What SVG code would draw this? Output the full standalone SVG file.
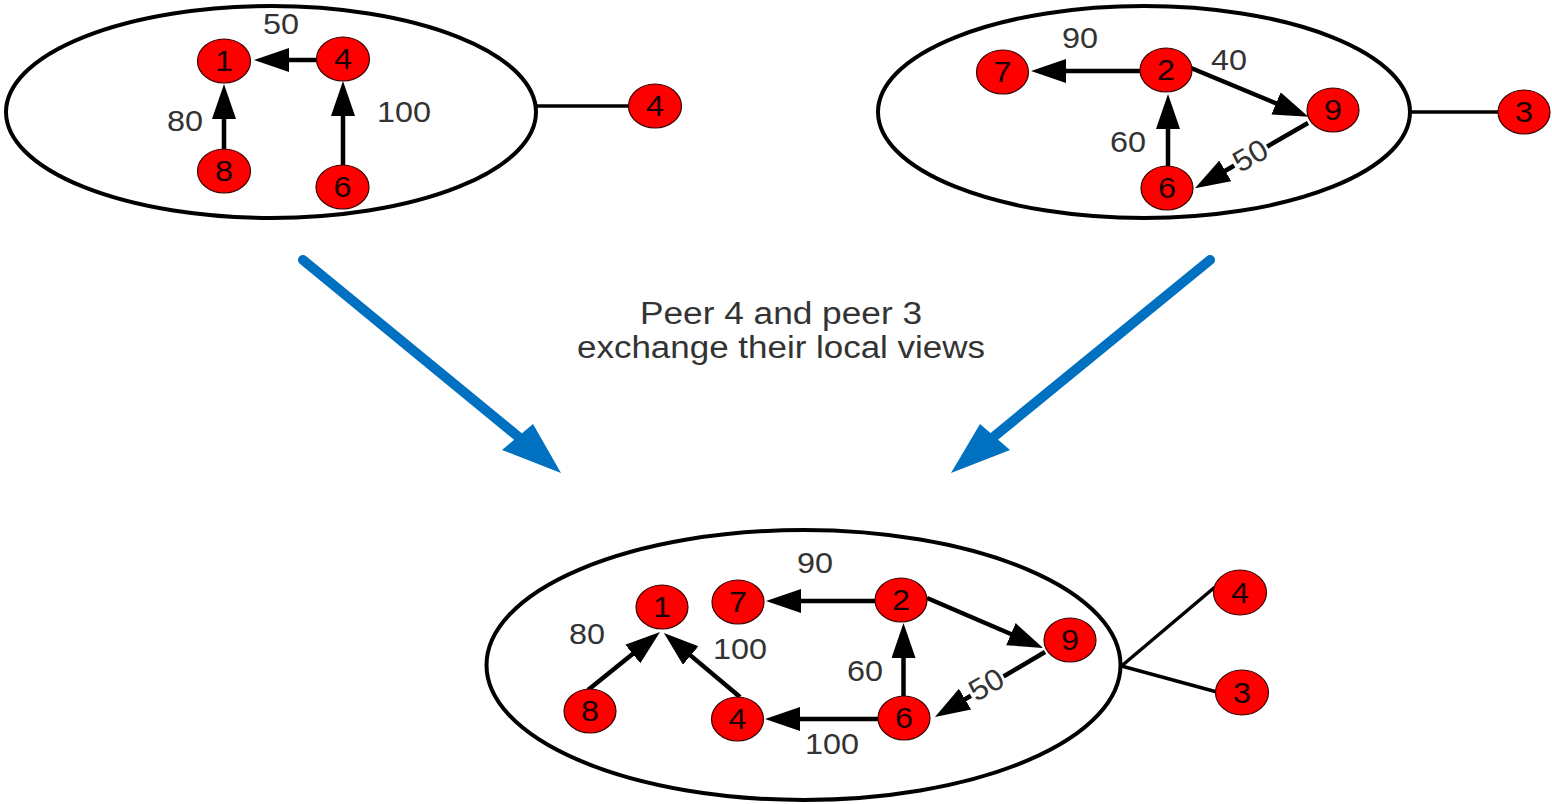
<svg xmlns="http://www.w3.org/2000/svg" width="1552" height="804" viewBox="0 0 1552 804">
  <style>
    .cluster { fill: none; stroke: #000; stroke-width: 4; }
    .node ellipse { fill: #ff0000; stroke: #3a0000; stroke-width: 1.2; }
    .node text { font-family: "Liberation Sans", Arial, sans-serif; font-size: 29px; fill: #1a0000; text-anchor: middle; }
    .edge { stroke: #000; stroke-width: 4.5; fill: none; }
    .link { stroke: #000; stroke-width: 3.5; fill: none; }
    .lbl { font-family: "Liberation Sans", Arial, sans-serif; font-size: 30px; fill: #333; text-anchor: middle; }
    .flow { stroke: #0070c0; stroke-width: 10; stroke-linecap: round; fill: none; }
    .flowhead { fill: #0070c0; }
    .caption { font-family: "Liberation Sans", Arial, sans-serif; font-size: 31px; fill: #333; text-anchor: middle; }
  </style>
  <defs>
    <marker id="arrow" markerUnits="userSpaceOnUse" markerWidth="38" markerHeight="26" refX="3" refY="12" orient="auto">
      <path d="M0,0 L35,12 L0,24 z" fill="#000"/>
    </marker>
  </defs>

  <rect width="1552" height="804" fill="#fff"/>

  <!-- local views (clusters) -->
  <g id="view-peer4">
    <ellipse class="cluster" cx="271" cy="112" rx="265" ry="106"/>
  </g>
  <g id="view-peer3">
    <ellipse class="cluster" cx="1144" cy="112" rx="266" ry="106"/>
  </g>
  <g id="view-merged">
    <ellipse class="cluster" cx="803.5" cy="665" rx="317" ry="135"/>
  </g>

  <!-- connectors: line ends sit 32px short of the arrow tip -->
  <g id="connectors">
    <!-- peer 4 view -->
    <line class="edge" x1="317" y1="60" x2="286" y2="60" marker-end="url(#arrow)"/>
    <line class="edge" x1="224" y1="150" x2="224" y2="116" marker-end="url(#arrow)"/>
    <line class="edge" x1="343" y1="165" x2="343" y2="113" marker-end="url(#arrow)"/>
    <line class="link" x1="536" y1="106" x2="629" y2="106"/>

    <!-- peer 3 view -->
    <line class="edge" x1="1140" y1="71" x2="1063" y2="71" marker-end="url(#arrow)"/>
    <line class="edge" x1="1191" y1="68" x2="1278.8" y2="104.5" marker-end="url(#arrow)"/>
    <line class="edge" x1="1308" y1="123" x2="1222.7" y2="172.3" marker-end="url(#arrow)"/>
    <line class="edge" x1="1168" y1="166" x2="1168" y2="126" marker-end="url(#arrow)"/>
    <line class="link" x1="1410" y1="112" x2="1498" y2="112"/>

    <!-- merged view -->
    <line class="edge" x1="588" y1="690" x2="635.1" y2="652.1" marker-end="url(#arrow)"/>
    <line class="edge" x1="740" y1="697" x2="688.4" y2="653.6" marker-end="url(#arrow)"/>
    <line class="edge" x1="875" y1="601" x2="798" y2="601" marker-end="url(#arrow)"/>
    <line class="edge" x1="878" y1="719" x2="797" y2="719" marker-end="url(#arrow)"/>
    <line class="edge" x1="927" y1="598" x2="1013.7" y2="635.3" marker-end="url(#arrow)"/>
    <line class="edge" x1="1045" y1="652" x2="962.5" y2="700.7" marker-end="url(#arrow)"/>
    <line class="edge" x1="903.5" y1="696" x2="903.5" y2="655" marker-end="url(#arrow)"/>
    <line class="link" x1="1121.5" y1="666" x2="1215" y2="587"/>
    <line class="link" x1="1121.5" y1="666" x2="1217" y2="692"/>

    <!-- exchange arrows -->
    <line class="flow" x1="303" y1="260" x2="521" y2="439"/>
    <polygon class="flowhead" points="561,473 533,424 502,450"/>
    <line class="flow" x1="1210" y1="260" x2="991" y2="439"/>
    <polygon class="flowhead" points="951,473 980,424 1010,450"/>
  </g>

  <!-- edge weights -->
  <g id="weights">
    <text class="lbl" x="281" y="34" textLength="36" lengthAdjust="spacingAndGlyphs">50</text>
    <text class="lbl" x="185" y="131" textLength="36" lengthAdjust="spacingAndGlyphs">80</text>
    <text class="lbl" x="404" y="122" textLength="54" lengthAdjust="spacingAndGlyphs">100</text>

    <text class="lbl" x="1080" y="48" textLength="36" lengthAdjust="spacingAndGlyphs">90</text>
    <text class="lbl" x="1229" y="70" textLength="36" lengthAdjust="spacingAndGlyphs">40</text>
    <text class="lbl" x="1128" y="152" textLength="36" lengthAdjust="spacingAndGlyphs">60</text>
    <g transform="translate(1250,155) rotate(-30)">
      <rect x="-19" y="-13" width="38" height="26" fill="#fff"/>
      <text class="lbl" x="0" y="11" textLength="35" lengthAdjust="spacingAndGlyphs">50</text>
    </g>

    <text class="lbl" x="815" y="573" textLength="36" lengthAdjust="spacingAndGlyphs">90</text>
    <text class="lbl" x="587" y="644" textLength="36" lengthAdjust="spacingAndGlyphs">80</text>
    <text class="lbl" x="740" y="659" textLength="54" lengthAdjust="spacingAndGlyphs">100</text>
    <text class="lbl" x="865" y="681" textLength="36" lengthAdjust="spacingAndGlyphs">60</text>
    <g transform="translate(986,684) rotate(-30)">
      <rect x="-19" y="-13" width="38" height="26" fill="#fff"/>
      <text class="lbl" x="0" y="11" textLength="35" lengthAdjust="spacingAndGlyphs">50</text>
    </g>
    <text class="lbl" x="832" y="754" textLength="54" lengthAdjust="spacingAndGlyphs">100</text>
  </g>

  <!-- caption -->
  <g id="caption">
    <text class="caption" x="781" y="324" textLength="282" lengthAdjust="spacingAndGlyphs">Peer 4 and peer 3</text>
    <text class="caption" x="781" y="358" textLength="408" lengthAdjust="spacingAndGlyphs">exchange their local views</text>
  </g>

  <!-- peer 4 view nodes -->
  <g id="a-n1" class="node"><ellipse cx="224" cy="61" rx="26.5" ry="22"/><text x="224" y="71" textLength="18" lengthAdjust="spacingAndGlyphs">1</text></g>
  <g id="a-n4" class="node"><ellipse cx="343" cy="59" rx="26.5" ry="22"/><text x="343" y="69" textLength="18" lengthAdjust="spacingAndGlyphs">4</text></g>
  <g id="a-n8" class="node"><ellipse cx="224" cy="171" rx="26.5" ry="22"/><text x="224" y="181" textLength="18" lengthAdjust="spacingAndGlyphs">8</text></g>
  <g id="a-n6" class="node"><ellipse cx="342.5" cy="187" rx="26.5" ry="22"/><text x="342.5" y="197" textLength="18" lengthAdjust="spacingAndGlyphs">6</text></g>
  <g id="a-peer4" class="node"><ellipse cx="655" cy="106" rx="26.5" ry="22"/><text x="655" y="116" textLength="18" lengthAdjust="spacingAndGlyphs">4</text></g>

  <!-- peer 3 view nodes -->
  <g id="b-n7" class="node"><ellipse cx="1002.5" cy="72" rx="26" ry="22"/><text x="1002.5" y="82" textLength="18" lengthAdjust="spacingAndGlyphs">7</text></g>
  <g id="b-n2" class="node"><ellipse cx="1166" cy="70" rx="26" ry="22"/><text x="1166" y="80" textLength="18" lengthAdjust="spacingAndGlyphs">2</text></g>
  <g id="b-n9" class="node"><ellipse cx="1333" cy="110" rx="26" ry="22"/><text x="1333" y="120" textLength="18" lengthAdjust="spacingAndGlyphs">9</text></g>
  <g id="b-n6" class="node"><ellipse cx="1167" cy="188" rx="26" ry="22"/><text x="1167" y="198" textLength="18" lengthAdjust="spacingAndGlyphs">6</text></g>
  <g id="b-peer3" class="node"><ellipse cx="1524" cy="112" rx="26" ry="22"/><text x="1524" y="122" textLength="18" lengthAdjust="spacingAndGlyphs">3</text></g>

  <!-- merged view nodes -->
  <g id="c-n1" class="node"><ellipse cx="662" cy="607" rx="26" ry="22"/><text x="662" y="617" textLength="18" lengthAdjust="spacingAndGlyphs">1</text></g>
  <g id="c-n7" class="node"><ellipse cx="738" cy="602" rx="26" ry="22"/><text x="738" y="612" textLength="18" lengthAdjust="spacingAndGlyphs">7</text></g>
  <g id="c-n2" class="node"><ellipse cx="901" cy="600" rx="26" ry="22"/><text x="901" y="610" textLength="18" lengthAdjust="spacingAndGlyphs">2</text></g>
  <g id="c-n9" class="node"><ellipse cx="1070" cy="640" rx="26" ry="22"/><text x="1070" y="650" textLength="18" lengthAdjust="spacingAndGlyphs">9</text></g>
  <g id="c-n8" class="node"><ellipse cx="590" cy="711" rx="26" ry="22"/><text x="590" y="721" textLength="18" lengthAdjust="spacingAndGlyphs">8</text></g>
  <g id="c-n4" class="node"><ellipse cx="737.5" cy="719" rx="26" ry="22"/><text x="737.5" y="729" textLength="18" lengthAdjust="spacingAndGlyphs">4</text></g>
  <g id="c-n6" class="node"><ellipse cx="904" cy="718" rx="26" ry="22"/><text x="904" y="728" textLength="18" lengthAdjust="spacingAndGlyphs">6</text></g>
  <g id="c-peer4" class="node"><ellipse cx="1240" cy="592.5" rx="26.5" ry="22.5"/><text x="1240" y="602.5" textLength="18" lengthAdjust="spacingAndGlyphs">4</text></g>
  <g id="c-peer3" class="node"><ellipse cx="1242" cy="692.5" rx="26.5" ry="22.5"/><text x="1242" y="702.5" textLength="18" lengthAdjust="spacingAndGlyphs">3</text></g>
</svg>
